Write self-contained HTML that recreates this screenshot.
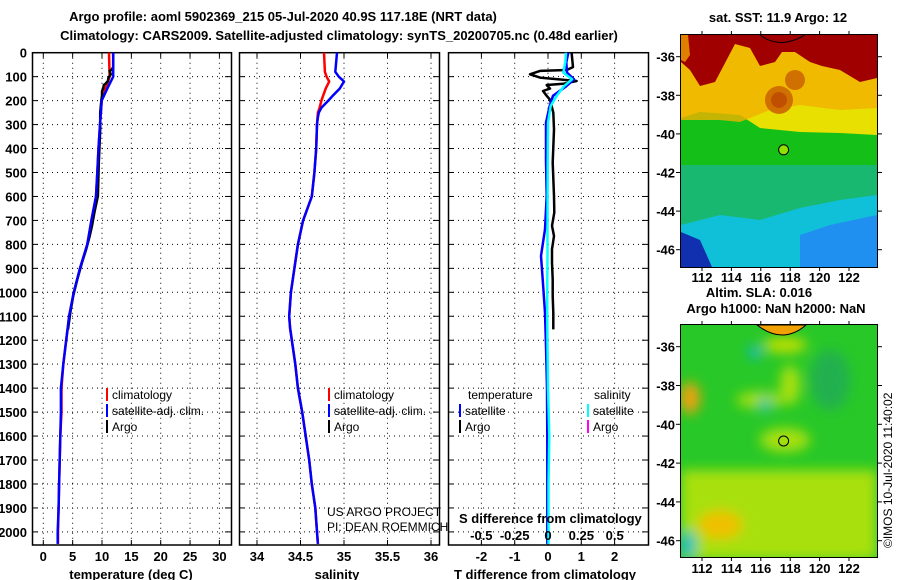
<!DOCTYPE html>
<html><head><meta charset="utf-8"><style>
body{margin:0;background:#fff;}
svg{display:block;font-family:"Liberation Sans",Arial,sans-serif;}
.b{font-weight:bold;font-size:13px;}
</style></head><body>
<svg id="c" width="900" height="580" viewBox="0 0 900 580">
<defs>
<filter id="blur" x="-20%" y="-20%" width="140%" height="140%"><feGaussianBlur stdDeviation="6"/></filter>
<clipPath id="m1"><rect x="681" y="35" width="196" height="232"/></clipPath>
<clipPath id="m2"><rect x="681" y="325" width="196" height="232"/></clipPath>
</defs>
<text class="b" x="283" y="21" text-anchor="middle" font-size="14.5">Argo profile: aoml 5902369_215 05-Jul-2020 40.9S 117.18E (NRT data)</text>
<text class="b" x="339" y="40" text-anchor="middle" font-size="14">Climatology: CARS2009. Satellite-adjusted climatology: synTS_20200705.nc (0.48d earlier)</text>
<g id="plots"></g>
<g id="maps">
 <g clip-path="url(#m1)">
  <rect x="681" y="35" width="196" height="232" fill="#14c018"/>
  <polygon points="681,35 877,35 877,135 840,133 800,132 760,128 740,115 700,112 681,118" fill="#e8e000"/>
  <polygon points="681,35 877,35 877,108 840,110 800,105 770,110 740,122 720,120 681,120" fill="#f0b000" opacity="0.8"/>
  <polygon points="681,35 877,35 877,78 860,82 840,70 822,66 810,62 795,52 782,52 775,62 760,66 750,48 735,44 715,82 700,86 690,70 681,62" fill="#a00000"/>
  <polygon points="681,35 688,35 690,55 685,62 681,60" fill="#e08000"/>
  <ellipse cx="779" cy="100" rx="14" ry="14" fill="#d07000"/>
  <ellipse cx="779" cy="100" rx="8" ry="8" fill="#c05000"/>
  <ellipse cx="795" cy="80" rx="10" ry="10" fill="#d07000"/>
  <polygon points="681,165 877,165 877,267 681,267" fill="#18b870"/>
  <polygon points="681,225 720,215 760,220 800,208 840,200 877,195 877,267 681,267" fill="#10c0d8"/>
  <polygon points="800,235 830,225 877,215 877,267 800,267" fill="#2090f0"/>
  <polygon points="681,232 700,240 712,267 681,267" fill="#1030b0"/>
  <circle cx="783.6" cy="149.8" r="5" fill="#90e000" stroke="#000" stroke-width="1"/>
  <path d="M760,35 Q780,50 805,35" fill="none" stroke="#000" stroke-width="1"/>
 </g>
 <rect x="680.5" y="34.5" width="197" height="233" fill="none" stroke="#000"/>
 <g clip-path="url(#m2)">
  <rect x="681" y="325" width="196" height="232" fill="#28c828"/>
  <g filter="url(#blur)">
   <rect x="681" y="470" width="196" height="90" fill="#a8e010"/>
   <ellipse cx="720" cy="525" rx="22" ry="14" fill="#f0c000"/>
   <ellipse cx="690" cy="398" rx="10" ry="16" fill="#f0a010"/>
   <ellipse cx="760" cy="400" rx="24" ry="8" fill="#a8e010"/>
   <ellipse cx="785" cy="440" rx="25" ry="12" fill="#a8e010"/>
   <ellipse cx="830" cy="380" rx="20" ry="30" fill="#20b050"/>
   <ellipse cx="790" cy="385" rx="10" ry="20" fill="#a8e010"/>
   <ellipse cx="755" cy="352" rx="6" ry="6" fill="#10b8e0"/>
   <ellipse cx="765" cy="405" rx="6" ry="7" fill="#10c0b0"/>
   <ellipse cx="688" cy="545" rx="8" ry="14" fill="#20c0c0"/>
   <ellipse cx="785" cy="345" rx="22" ry="8" fill="#c0e000"/>
  </g>
  <path d="M757,325 Q783,345 806,325 Z" fill="#f0a000" stroke="#000" stroke-width="1"/>
  <circle cx="783.6" cy="441" r="5" fill="none" stroke="#000" stroke-width="1"/>
 </g>
 <rect x="680.5" y="324.5" width="197" height="233" fill="none" stroke="#000"/>
 <text class="b" x="778" y="22" text-anchor="middle" font-size="13">sat. SST: 11.9 Argo: 12</text>
 <text class="b" x="759" y="297" text-anchor="middle" font-size="13">Altim. SLA: 0.016</text>
 <text class="b" x="776" y="313" text-anchor="middle" font-size="13">Argo h1000: NaN h2000: NaN</text>
 <text x="892" y="548" transform="rotate(-90 892 548)" font-size="12">©IMOS 10-Jul-2020 11:40:02</text>
 <g id="mapticks"></g>
</g>
</svg>
<script>
// ----- profile data (depth in m) -----
const tDepth = [0,100,150,200,300,400,500,600,700,800,900,1000,1100,1150,1200,1300,1400,1500,1600,1700,1800,1900,2000,2050];
const tClim  = [11.2,11.3,10.6,9.95,9.66,9.4,9.2,8.98,8.2,7.5,6.25,5.2,4.4,4.15,3.9,3.4,3.1,3.1,2.9,2.8,2.7,2.6,2.5,2.5];
const tSat   = [11.9,11.9,10.9,9.95,9.66,9.4,9.2,8.98,8.2,7.5,6.25,5.2,4.4,4.15,3.9,3.4,3.0,3.0,2.9,2.8,2.7,2.6,2.45,2.45];
const argoDepth = [0,60,72,76,90,104,118,130,135,150,160,180,196,250,320,459,598,667,723,765,820,876,946,1015,1085,1155];
const tArgo  = [11.9,11.9,11.6,11.3,11.5,11.1,11.0,10.6,10.3,10.2,10.0,10.0,9.9,9.7,9.7,9.45,9.3,8.7,8.3,7.9,7.3,6.6,5.8,5.1,4.6,4.2];
const sDepth = [0,80,100,120,150,180,200,230,250,270,300,400,500,600,700,800,900,1000,1100,1150,1300,1400,1500,1600,1700,1800,1900,2000,2050];
const sClim  = [34.77,34.78,34.80,34.83,34.79,34.76,34.74,34.72,34.70,34.695,34.69,34.68,34.66,34.63,34.53,34.47,34.43,34.39,34.37,34.38,34.44,34.47,34.52,34.56,34.60,34.63,34.67,34.69,34.70];
const sSat   = [34.92,34.90,34.94,35.00,34.95,34.87,34.82,34.74,34.71,34.70,34.69,34.68,34.66,34.63,34.53,34.47,34.43,34.39,34.37,34.38,34.44,34.47,34.52,34.56,34.60,34.63,34.67,34.69,34.70];
const dDepth = [0,40,83,111,140,180,222,292,450,598,737,848,946,1085,1224,1400,1600,1800,2050];
const dTSat  = [0.61,0.55,0.57,0.78,0.55,0.15,0.05,-0.06,-0.06,-0.04,-0.09,-0.21,-0.16,-0.09,-0.06,-0.03,-0.02,-0.02,-0.02];
const dTArgo = [0.71,0.75,0.56,-0.24,-0.54,-0.24,0.86,0.46,-0.04,0.06,-0.15,-0.04,0.06,0.16,0.18,0.14,0.18,0.19,0.12,0.18,0.12,0.12,0.14,0.14,0.16,0.16];
const dSSat  = [0.135,0.13,0.115,0.18,0.12,0.065,0.02,0.0,-0.002,-0.003,-0.004,-0.004,-0.005,-0.006,-0.004,0.0,0.01,0.004,0.004];
const depthTicks = [0,100,200,300,400,500,600,700,800,900,1000,1100,1200,1300,1400,1500,1600,1700,1800,1900,2000];
const tTicks = [0,5,10,15,20,25,30];
const sTicks = [34,34.5,35,35.5,36];
const dTTicks = [-2,-1,0,1,2];
const dSTicks = [-0.5,-0.25,0,0.25,0.5];
const lonTicks = [112,114,116,118,120,122];
const latTicks = [-36,-38,-40,-42,-44,-46];

const NS='http://www.w3.org/2000/svg';
const Y = d => 52.7 + d*0.2396;
const XT = v => 43.3 + 5.87*v;
const XS = v => 257 + 87*(v-34);
const XD = v => 548 + 33.3*v;
const XDS = v => 548 + 133.3*v;
const LON = v => 702 + 14.7*(v-112);
const LAT1 = v => 56.7 + 19.3*(-36 - v);
const LAT2 = v => 346.7 + 19.4*(-36 - v);
const g = document.getElementById('plots');
function mk(tag, attrs, parent){const e=document.createElementNS(NS,tag);for(const k in attrs)e.setAttribute(k,attrs[k]);(parent||g).appendChild(e);return e;}
function txt(x,y,s,anchor,cls,size,parent){const e=mk('text',{x:x,y:y,'text-anchor':anchor||'start','font-size':size||13},parent);if(cls)e.setAttribute('class',cls);e.textContent=s;return e;}

const panels=[{l:32,r:231,ticks:tTicks,fx:XT,name:'temperature-panel'},{l:239,r:439,ticks:sTicks,fx:XS,name:'salinity-panel'},{l:448,r:648,ticks:dTTicks,fx:XD,name:'difference-panel'}];
const TOPY=52.7, BOTY=545;
panels.forEach(p=>{
  const pg=mk('g',{});
  
  
  depthTicks.forEach(d=>{const y=Y(d);
    const ln=mk('line',{x1:p.l,x2:p.r,y1:y,y2:y,stroke:'#000','stroke-dasharray':'1,4'},pg);
    
    
    mk('line',{x1:p.l,x2:p.l+6,y1:y,y2:y,stroke:'#000'},pg);
    mk('line',{x1:p.r-6,x2:p.r,y1:y,y2:y,stroke:'#000'},pg);});
  p.ticks.forEach(v=>{const x=p.fx(v);
    const ln=mk('line',{x1:x,x2:x,y1:TOPY,y2:BOTY,stroke:'#000','stroke-dasharray':'1,4'},pg);
    
    
    mk('line',{x1:x,x2:x,y1:TOPY,y2:TOPY+5,stroke:'#000'},pg);
    mk('line',{x1:x,x2:x,y1:BOTY-5,y2:BOTY,stroke:'#000'},pg);
    const t=txt(x,561,String(v),'middle','b',13,pg);
    
    });
  const fr=mk('rect',{x:p.l+0.5,y:TOPY,width:p.r-p.l,height:BOTY-TOPY,fill:'none',stroke:'#000','stroke-width':1.5},pg);
  
  
});
depthTicks.forEach(d=>{const t=txt(27,Y(d)+5,String(d),'end','b',13);
  
  });

function line(xs,ds,fx,color,name,w){
  const pts=xs.map((v,i)=>fx(v).toFixed(1)+','+Y(ds[i]).toFixed(1)).join(' ');
  const e=mk('polyline',{points:pts,fill:'none',stroke:color,'stroke-width':w||2.5,'stroke-linejoin':'round'});
  
  
}
line(tClim,tDepth,XT,'#ff0000','temp-climatology-line');
line(tArgo,argoDepth,XT,'#000','temp-argo-line');
line(tSat,tDepth,XT,'#0000ff','temp-satellite-line');
line(sClim,sDepth,XS,'#ff0000','sal-climatology-line');
line(sSat,sDepth,XS,'#0000ff','sal-satellite-line');
line(dTArgo,argoDepth,XD,'#000','tdiff-argo-line');
line(dTSat,dDepth,XD,'#0000ff','tdiff-satellite-line');
line(dSSat,dDepth,XDS,'#00ffff','sdiff-satellite-line');

function leg(x,y,color,label){
  const k=mk('line',{x1:x,x2:x,y1:y-11,y2:y+2,stroke:color,'stroke-width':2});
  
  
  const t=txt(x+5,y,label,'start',null,12);
  
  
}
leg(107,399,'#ff0000','climatology');leg(107,415,'#0000ff','satellite-adj. clim.');leg(107,431,'#000','Argo');
leg(329,399,'#ff0000','climatology');leg(329,415,'#0000ff','satellite-adj. clim.');leg(329,431,'#000','Argo');
let lt;
lt=txt(468,399,'temperature','start',null,12);


lt=txt(594,399,'salinity','start',null,12);


leg(460,415,'#0000ff','satellite');leg(460,431,'#000','Argo');
leg(588,415,'#00ffff','satellite');leg(588,431,'#ff00ff','Argo');
lt=txt(327,516,'US ARGO PROJECT','start',null,12);


lt=txt(327,531,'PI: DEAN ROEMMICH','start',null,12);


lt=txt(459,523,'S difference from climatology','start','b',12);


dSTicks.forEach(v=>{const e=txt(XDS(v),540,String(v),'middle','b',12);
  
  });
lt=txt(131,579,'temperature (deg C)','middle','b',13);


lt=txt(337,579,'salinity','middle','b',13);


lt=txt(545,579,'T difference from climatology','middle','b',13);



const mt=document.getElementById('mapticks');
[[35,267,LAT1,282],[325,557,LAT2,573]].forEach(([t0,b0,fl,ly])=>{
  lonTicks.forEach(v=>{const x=LON(v);
    mk('line',{x1:x,x2:x,y1:t0-4,y2:t0,stroke:'#000'},mt);
    mk('line',{x1:x,x2:x,y1:b0,y2:b0+4,stroke:'#000'},mt);
    const e=txt(x,ly,String(v),'middle','b',13,mt);
    
    });
  latTicks.forEach(v=>{const y=fl(v);
    mk('line',{x1:877,x2:882,y1:y,y2:y,stroke:'#000'},mt);
    mk('line',{x1:676,x2:681,y1:y,y2:y,stroke:'#000'},mt);
    const e=txt(675,y+5,String(v),'end','b',13,mt);
    
    });
});
</script>
</body></html>
